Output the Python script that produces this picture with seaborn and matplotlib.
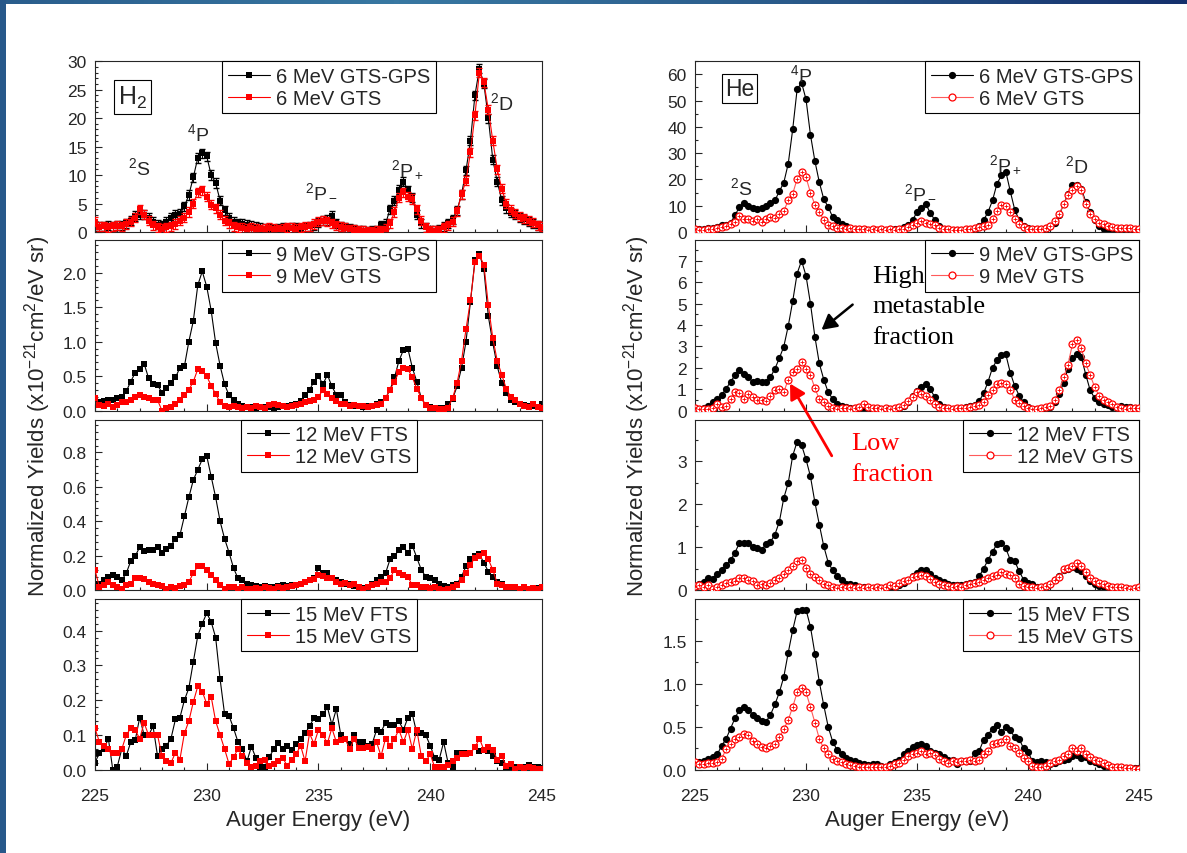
import numpy as np
import matplotlib
matplotlib.use("Agg")
import matplotlib.pyplot as plt
from matplotlib.colors import LinearSegmentedColormap
from matplotlib.patches import Rectangle
from matplotlib.ticker import MultipleLocator, FormatStrFormatter
import seaborn as sns

# Auger energy grid (eV), 0.2 eV channels
energy = np.round(np.arange(225.0, 245.01, 0.2), 1)

# ---- H2 target ----
h2_6_gps = [1.0, 0.9, 1.0, 1.1, 1.0, 1.1, 1.2, 1.5, 2.0, 2.8,
            3.0, 3.0, 2.5, 1.8, 1.3, 1.2, 1.8, 2.5, 3.0, 3.2,
            4.5, 6.5, 9.6, 13.0, 13.8, 13.3, 10.0, 8.6, 5.5, 3.8,
            2.5, 1.8, 1.5, 1.4, 1.3, 1.1, 0.9, 0.7, 0.6, 0.6,
            0.5, 0.6, 0.7, 0.6, 0.7, 0.8, 0.6, 0.8, 1.0, 1.2,
            1.6, 2.0, 2.1, 2.8, 1.5, 1.0, 0.8, 0.6, 0.5, 0.3,
            0.2, 0.1, 0.2, 0.3, 1.2, 1.4, 4.0, 5.5, 7.4, 8.8,
            7.3, 6.0, 3.0, 1.5, 0.8, 0.3, 0.2, 0.5, 0.9, 1.5,
            2.2, 3.8, 6.6, 10.8, 16.0, 24.0, 28.7, 26.0, 20.0, 12.7,
            8.8, 5.6, 4.2, 3.4, 3.0, 2.6, 2.2, 1.8, 1.5, 1.1,
            0.9]
h2_6_gts = [1.8, 0.9, 1.0, 0.8, 1.0, 1.1, 1.0, 1.4, 1.8, 2.5,
            4.0, 3.0, 2.0, 1.2, 0.8, 0.6, 0.8, 1.0, 1.4, 2.0,
            2.5, 3.5, 5.0, 7.0, 7.3, 6.2, 4.8, 4.2, 3.0, 2.0,
            1.5, 1.0, 0.8, 0.7, 0.6, 0.7, 0.6, 0.5, 0.6, 0.7,
            0.6, 0.5, 0.6, 0.8, 0.7, 0.6, 0.8, 0.9, 1.0, 1.4,
            1.8, 2.0, 1.9, 1.5, 1.2, 0.9, 0.7, 0.5, 0.4, 0.3,
            0.2, 0.1, 0.1, 0.2, 0.3, 0.6, 1.5, 3.5, 6.0, 7.0,
            6.2, 5.8, 4.0, 2.0, 0.8, 0.3, 0.2, 0.3, 0.8, 1.2,
            1.8, 3.6, 6.6, 9.0, 14.0, 20.5, 28.0, 26.3, 21.5, 16.0,
            11.0, 7.6, 5.0, 3.9, 3.2, 2.7, 2.4, 2.0, 1.6, 1.2,
            0.9]
h2_6_err = 0.8

h2_9_gps = [0.10, 0.13, 0.14, 0.15, 0.16, 0.18, 0.20, 0.28, 0.42, 0.55,
            0.60, 0.68, 0.47, 0.38, 0.37, 0.26, 0.33, 0.40, 0.48, 0.62,
            0.64, 1.00, 1.30, 1.82, 2.02, 1.80, 1.45, 0.98, 0.65, 0.38,
            0.22, 0.15, 0.10, 0.07, 0.05, 0.05, 0.04, 0.05, 0.05, 0.05,
            0.04, 0.05, 0.06, 0.07, 0.08, 0.10, 0.14, 0.22, 0.30, 0.42,
            0.50, 0.38, 0.52, 0.35, 0.23, 0.22, 0.12, 0.08, 0.07, 0.06,
            0.05, 0.06, 0.07, 0.10, 0.12, 0.18, 0.30, 0.48, 0.72, 0.88,
            0.90, 0.62, 0.42, 0.18, 0.08, 0.05, 0.03, 0.03, 0.04, 0.10,
            0.17, 0.35, 0.62, 1.00, 1.58, 2.18, 2.28, 2.05, 1.37, 0.98,
            0.64, 0.40, 0.25, 0.15, 0.12, 0.10, 0.08, 0.07, 0.06, 0.05,
            0.10]
h2_9_gts = [0.18, 0.08, 0.06, 0.10, 0.05, 0.08, 0.13, 0.12, 0.16, 0.20,
            0.22, 0.20, 0.18, 0.16, 0.15, 0.00, 0.03, 0.05, 0.10, 0.16,
            0.22, 0.30, 0.42, 0.60, 0.58, 0.50, 0.36, 0.24, 0.12, 0.07,
            0.05, 0.06, 0.05, 0.04, 0.05, 0.04, 0.06, 0.05, 0.04, 0.08,
            0.10, 0.08, 0.06, 0.05, 0.07, 0.08, 0.10, 0.12, 0.14, 0.16,
            0.20, 0.30, 0.24, 0.18, 0.14, 0.10, 0.09, 0.07, 0.08, 0.07,
            0.06, 0.05, 0.07, 0.08, 0.10, 0.18, 0.30, 0.42, 0.56, 0.62,
            0.60, 0.48, 0.32, 0.18, 0.08, 0.04, 0.03, 0.02, 0.02, 0.04,
            0.18, 0.40, 0.72, 1.18, 1.60, 2.15, 2.25, 2.12, 1.53, 1.05,
            0.72, 0.52, 0.32, 0.20, 0.15, 0.10, 0.07, 0.05, 0.09, 0.05,
            0.04]

h2_12_fts = [0.03, 0.04, 0.06, 0.08, 0.09, 0.08, 0.06, 0.10, 0.17, 0.20,
             0.25, 0.23, 0.235, 0.235, 0.25, 0.22, 0.24, 0.26, 0.30, 0.32,
             0.43, 0.54, 0.64, 0.70, 0.76, 0.78, 0.66, 0.54, 0.40, 0.30,
             0.22, 0.13, 0.07, 0.06, 0.04, 0.03, 0.025, 0.02, 0.025, 0.02,
             0.02, 0.025, 0.03, 0.025, 0.03, 0.03, 0.04, 0.05, 0.06, 0.07,
             0.13, 0.10, 0.10, 0.07, 0.06, 0.05, 0.04, 0.035, 0.025, 0.02,
             0.015, 0.02, 0.04, 0.06, 0.08, 0.10, 0.18, 0.20, 0.235, 0.25,
             0.22, 0.26, 0.19, 0.12, 0.08, 0.07, 0.06, 0.04, 0.025, 0.02,
             0.03, 0.04, 0.08, 0.14, 0.18, 0.20, 0.21, 0.16, 0.11, 0.08,
             0.05, 0.035, 0.02, 0.02, 0.015, 0.01, 0.015, 0.01, 0.01, 0.015,
             0.01]
h2_12_gts = [0.12, 0.02, 0.03, 0.05, 0.03, 0.02, 0.01, 0.03, 0.04, 0.07,
             0.07, 0.065, 0.05, 0.04, 0.03, 0.025, 0.01, 0.02, 0.015, 0.025,
             0.03, 0.05, 0.10, 0.14, 0.14, 0.12, 0.09, 0.06, 0.03, 0.01,
             0.02, 0.02, 0.01, 0.02, 0.01, 0.01, 0.015, 0.01, 0.02, 0.015,
             0.01, 0.02, 0.015, 0.02, 0.025, 0.03, 0.035, 0.05, 0.06, 0.065,
             0.09, 0.085, 0.07, 0.075, 0.05, 0.04, 0.045, 0.03, 0.035, 0.02,
             0.01, 0.02, 0.03, 0.04, 0.05, 0.05, 0.07, 0.12, 0.10, 0.09,
             0.08, 0.03, 0.03, 0.02, 0.02, 0.015, 0.02, 0.01, 0.005, 0.01,
             0.02, 0.03, 0.06, 0.10, 0.15, 0.19, 0.20, 0.22, 0.18, 0.12,
             0.04, 0.03, 0.02, 0.02, 0.02, 0.01, 0.02, 0.01, 0.015, 0.01,
             0.02]

h2_15_fts = [0.02, 0.05, 0.06, 0.09, 0.00, 0.01, 0.06, 0.04, 0.08, 0.085,
             0.15, 0.10, 0.10, 0.125, 0.04, 0.06, 0.07, 0.09, 0.145, 0.15,
             0.20, 0.235, 0.31, 0.385, 0.42, 0.45, 0.425, 0.38, 0.26, 0.16,
             0.155, 0.12, 0.08, 0.06, 0.025, 0.067, 0.035, 0.008, 0.01, 0.037,
             0.06, 0.076, 0.06, 0.07, 0.057, 0.075, 0.09, 0.105, 0.125, 0.15,
             0.145, 0.16, 0.18, 0.13, 0.175, 0.10, 0.09, 0.075, 0.10, 0.08,
             0.08, 0.07, 0.075, 0.115, 0.11, 0.135, 0.13, 0.13, 0.14, 0.115,
             0.15, 0.16, 0.105, 0.105, 0.10, 0.07, 0.035, 0.03, 0.08, 0.02,
             0.01, 0.05, 0.05, 0.05, 0.05, 0.065, 0.055, 0.058, 0.055, 0.04,
             0.025, 0.02, 0.01, 0.008, 0.008, 0.01, 0.01, 0.015, 0.01, 0.008,
             0.005]
h2_15_gts = [0.12, 0.08, 0.07, 0.06, 0.05, 0.05, 0.06, 0.10, 0.12, 0.115,
             0.09, 0.135, 0.10, 0.10, 0.10, 0.04, 0.025, 0.02, 0.05, 0.03,
             0.105, 0.14, 0.195, 0.24, 0.225, 0.19, 0.21, 0.14, 0.10, 0.06,
             0.017, 0.037, 0.06, 0.04, 0.02, 0.008, 0.012, 0.025, 0.03, 0.012,
             0.017, 0.025, 0.035, 0.012, 0.03, 0.045, 0.07, 0.025, 0.105, 0.075,
             0.115, 0.10, 0.077, 0.12, 0.08, 0.085, 0.088, 0.06, 0.09, 0.063,
             0.063, 0.066, 0.06, 0.08, 0.04, 0.09, 0.07, 0.09, 0.115, 0.08,
             0.115, 0.06, 0.115, 0.04, 0.025, 0.045, 0.008, 0.008, 0.01, 0.015,
             0.025, 0.035, 0.045, 0.045, 0.05, 0.065, 0.09, 0.058, 0.067, 0.058,
             0.03, 0.04, 0.012, 0.017, 0.003, 0.008, 0.006, 0.01, 0.005, 0.004,
             0.003]

# ---- He target ----
he_6_gps = [1.2, 1.3, 1.2, 1.5, 1.5, 2.0, 2.5, 2.8, 3.5, 6.3,
            9.5, 11.1, 10.0, 9.3, 8.7, 9.1, 9.8, 11.2, 12.0, 15.5,
            18.8, 26.0, 39.0, 54.3, 56.8, 50.5, 37.0, 27.0, 18.9, 12.5,
            9.5, 5.7, 4.4, 3.2, 2.2, 1.7, 1.3, 1.1, 1.0, 0.9,
            0.8, 0.7, 0.8, 0.9, 1.0, 1.1, 1.3, 1.8, 2.5, 4.5,
            7.6, 9.0, 10.5, 7.3, 4.5, 2.3, 1.3, 0.9, 0.7, 0.6,
            0.6, 0.7, 0.9, 1.2, 2.2, 4.5, 7.6, 12.0, 18.3, 21.5,
            23.0, 15.5, 8.5, 4.5, 2.3, 1.4, 1.0, 0.9, 1.0, 1.4,
            2.2, 3.5, 6.3, 10.5, 14.5, 17.8, 17.9, 16.4, 11.5, 7.5,
            4.5, 2.2, 1.3, 1.0, 0.8, 0.7, 0.6, 0.5, 0.5, 0.4,
            0.4]
he_6_gts = [1.0, 0.8, 0.9, 1.0, 1.3, 1.6, 1.9, 2.3, 3.2, 3.9,
            6.0, 5.1, 4.8, 4.0, 4.8, 3.8, 5.1, 5.7, 5.3, 7.0,
            8.0, 12.0, 14.5, 20.2, 22.7, 20.8, 15.0, 10.4, 7.5, 4.6,
            2.8, 2.1, 1.7, 1.4, 1.2, 1.5, 1.2, 1.0, 1.3, 0.9,
            1.1, 0.8, 1.0, 0.9, 1.0, 0.9, 1.1, 1.3, 1.8, 2.5,
            3.3, 4.0, 3.5, 3.2, 2.8, 1.6, 1.2, 1.0, 0.8, 0.9,
            0.8, 1.0, 1.3, 1.5, 1.9, 2.2, 2.5, 4.8, 7.8, 10.2,
            10.0, 7.6, 5.1, 3.0, 1.9, 1.3, 1.0, 1.0, 1.2, 1.6,
            2.3, 4.0, 6.8, 10.5, 13.9, 15.8, 17.5, 15.8, 10.5, 7.0,
            4.8, 3.6, 2.9, 2.4, 1.9, 1.7, 1.5, 1.5, 1.4, 1.3,
            1.2]

he_9_gps = [0.05, 0.06, 0.10, 0.20, 0.38, 0.52, 0.72, 1.02, 1.34, 1.65,
            1.88, 1.72, 1.55, 1.34, 1.37, 1.33, 1.35, 1.57, 1.95, 2.45,
            2.99, 3.95, 5.10, 6.40, 7.00, 6.30, 5.00, 3.45, 2.20, 1.45,
            0.85, 0.55, 0.31, 0.20, 0.16, 0.13, 0.10, 0.09, 0.08, 0.07,
            0.06, 0.06, 0.05, 0.05, 0.05, 0.07, 0.10, 0.22, 0.38, 0.70,
            0.92, 1.10, 1.26, 1.00, 0.62, 0.31, 0.18, 0.10, 0.07, 0.08,
            0.10, 0.15, 0.20, 0.28, 0.45, 0.80, 1.35, 2.00, 2.35, 2.58,
            2.62, 1.77, 1.15, 0.70, 0.38, 0.18, 0.08, 0.06, 0.07, 0.10,
            0.17, 0.40, 0.78, 1.30, 1.95, 2.44, 2.65, 2.50, 1.68, 0.94,
            0.58, 0.42, 0.31, 0.24, 0.17, 0.16, 0.20, 0.17, 0.15, 0.12,
            0.10]
he_9_gts = [0.10, 0.08, 0.07, 0.06, 0.12, 0.31, 0.15, 0.22, 0.55, 0.86,
            0.80, 0.55, 0.78, 0.65, 0.47, 0.50, 0.45, 0.68, 0.94, 1.00,
            0.86, 1.45, 1.81, 1.95, 2.25, 1.95, 1.65, 1.05, 0.52, 0.38,
            0.22, 0.14, 0.07, 0.10, 0.12, 0.08, 0.10, 0.15, 0.31, 0.15,
            0.10, 0.12, 0.08, 0.10, 0.07, 0.12, 0.15, 0.25, 0.45, 0.62,
            0.86, 0.76, 0.70, 0.50, 0.30, 0.15, 0.12, 0.10, 0.08, 0.12,
            0.10, 0.13, 0.15, 0.20, 0.28, 0.42, 0.72, 0.94, 1.26, 1.30,
            1.25, 0.98, 0.50, 0.35, 0.20, 0.10, 0.08, 0.07, 0.10, 0.15,
            0.22, 0.50, 0.95, 1.55, 2.15, 3.10, 3.30, 2.90, 2.20, 1.65,
            1.10, 0.70, 0.48, 0.38, 0.30, 0.15, 0.10, 0.07, 0.12, 0.14,
            0.10]

he_12_fts = [0.08, 0.16, 0.20, 0.30, 0.27, 0.39, 0.47, 0.60, 0.70, 0.88,
             1.10, 1.11, 1.10, 1.02, 0.98, 0.94, 1.08, 1.13, 1.30, 1.60,
             2.15, 2.50, 3.13, 3.46, 3.38, 3.05, 2.65, 2.05, 1.53, 1.03,
             0.65, 0.47, 0.34, 0.25, 0.14, 0.14, 0.12, 0.09, 0.07, 0.06,
             0.05, 0.05, 0.06, 0.05, 0.07, 0.09, 0.12, 0.17, 0.25, 0.33,
             0.41, 0.48, 0.47, 0.38, 0.30, 0.25, 0.19, 0.14, 0.12, 0.12,
             0.13, 0.15, 0.17, 0.19, 0.33, 0.51, 0.71, 0.90, 1.08, 1.11,
             0.98, 0.71, 0.68, 0.45, 0.25, 0.18, 0.14, 0.09, 0.08, 0.10,
             0.16, 0.25, 0.33, 0.47, 0.51, 0.55, 0.51, 0.45, 0.33, 0.23,
             0.16, 0.10, 0.08, 0.07, 0.06, 0.05, 0.05, 0.04, 0.04, 0.04,
             0.04]
he_12_gts = [0.10, 0.12, 0.09, 0.12, 0.04, 0.08, 0.12, 0.18, 0.20, 0.22,
             0.28, 0.30, 0.25, 0.21, 0.12, 0.16, 0.12, 0.17, 0.25, 0.30,
             0.39, 0.47, 0.58, 0.68, 0.72, 0.52, 0.38, 0.32, 0.24, 0.16,
             0.12, 0.08, 0.06, 0.08, 0.05, 0.07, 0.05, 0.08, 0.06, 0.07,
             0.05, 0.08, 0.06, 0.09, 0.12, 0.10, 0.18, 0.22, 0.25, 0.32,
             0.34, 0.35, 0.33, 0.27, 0.20, 0.15, 0.12, 0.10, 0.08, 0.10,
             0.09, 0.12, 0.15, 0.17, 0.20, 0.25, 0.30, 0.34, 0.37, 0.43,
             0.38, 0.35, 0.28, 0.14, 0.10, 0.08, 0.07, 0.06, 0.07, 0.10,
             0.14, 0.24, 0.32, 0.49, 0.53, 0.58, 0.63, 0.57, 0.44, 0.30,
             0.22, 0.17, 0.14, 0.11, 0.09, 0.09, 0.09, 0.06, 0.04, 0.06,
             0.08]

he_15_fts = [0.09, 0.09, 0.10, 0.13, 0.15, 0.18, 0.28, 0.36, 0.48, 0.60,
             0.70, 0.73, 0.70, 0.64, 0.60, 0.57, 0.56, 0.64, 0.76, 0.90,
             1.08, 1.36, 1.62, 1.84, 1.85, 1.86, 1.66, 1.35, 1.02, 0.75,
             0.50, 0.33, 0.23, 0.18, 0.14, 0.12, 0.10, 0.08, 0.07, 0.06,
             0.07, 0.07, 0.05, 0.04, 0.07, 0.09, 0.12, 0.18, 0.22, 0.27,
             0.29, 0.30, 0.28, 0.22, 0.20, 0.18, 0.15, 0.12, 0.12, 0.07,
             0.11, 0.11, 0.11, 0.20, 0.22, 0.35, 0.41, 0.48, 0.52, 0.44,
             0.50, 0.46, 0.38, 0.36, 0.25, 0.21, 0.10, 0.09, 0.10, 0.09,
             0.07, 0.08, 0.10, 0.12, 0.13, 0.16, 0.17, 0.14, 0.15, 0.11,
             0.09, 0.07, 0.05, 0.05, 0.04, 0.03, 0.03, 0.02, 0.01, 0.02,
             0.02]
he_15_gts = [0.09, 0.07, 0.07, 0.08, 0.08, 0.09, 0.13, 0.24, 0.30, 0.36,
             0.38, 0.42, 0.40, 0.34, 0.30, 0.27, 0.25, 0.28, 0.30, 0.38,
             0.47, 0.58, 0.73, 0.90, 0.95, 0.90, 0.73, 0.55, 0.36, 0.25,
             0.18, 0.13, 0.11, 0.09, 0.07, 0.06, 0.05, 0.03, 0.03, 0.03,
             0.03, 0.03, 0.03, 0.03, 0.05, 0.07, 0.08, 0.12, 0.16, 0.19,
             0.20, 0.22, 0.18, 0.20, 0.17, 0.13, 0.10, 0.08, 0.10, 0.09,
             0.11, 0.10, 0.12, 0.10, 0.12, 0.18, 0.22, 0.30, 0.31, 0.32,
             0.36, 0.28, 0.25, 0.20, 0.14, 0.10, 0.05, 0.04, 0.04, 0.05,
             0.08, 0.10, 0.12, 0.16, 0.19, 0.26, 0.22, 0.25, 0.19, 0.15,
             0.12, 0.10, 0.08, 0.06, 0.04, 0.04, 0.03, 0.02, 0.02, 0.01,
             0.01]

h2_panels = [
    (h2_6_gps, h2_6_gts, "6 MeV GTS-GPS", "6 MeV GTS", 30, 5),
    (h2_9_gps, h2_9_gts, "9 MeV GTS-GPS", "9 MeV GTS", 2.48, 0.5),
    (h2_12_fts, h2_12_gts, "12 MeV FTS", "12 MeV GTS", 0.99, 0.2),
    (h2_15_fts, h2_15_gts, "15 MeV FTS", "15 MeV GTS", 0.49, 0.1),
]
he_panels = [
    (he_6_gps, he_6_gts, "6 MeV GTS-GPS", "6 MeV GTS", 65, 10),
    (he_9_gps, he_9_gts, "9 MeV GTS-GPS", "9 MeV GTS", 7.98, 1),
    (he_12_fts, he_12_gts, "12 MeV FTS", "12 MeV GTS", 3.97, 1),
    (he_15_fts, he_15_gts, "15 MeV FTS", "15 MeV GTS", 1.98, 0.5),
]

h2_peaks = [("$^2$S", 227.0, 11.4), ("$^4$P", 229.6, 17.3), ("$^2$P$_-$", 235.15, 7.3),
            ("$^2$P$_+$", 239.0, 11.2), ("$^2$D", 243.2, 22.8)]
he_peaks = [("$^2$S", 227.1, 17.0), ("$^4$P", 229.8, 60.0), ("$^2$P$_-$", 235.15, 15.5),
            ("$^2$P$_+$", 239.0, 26.0), ("$^2$D", 242.2, 25.3)]

sns.set_style("ticks")
plt.rcParams["font.family"] = ["Liberation Sans", "DejaVu Sans"]
plt.rcParams["mathtext.fontset"] = "custom"
plt.rcParams["mathtext.rm"] = "Liberation Sans"
plt.rcParams["mathtext.it"] = "Liberation Sans:italic"
plt.rcParams["axes.linewidth"] = 0.8

fig = plt.figure(figsize=(11.87, 8.54), dpi=100)

# slide frame (blue strips on top and left)
slide_cmap = LinearSegmentedColormap.from_list("slide", ["#2a5d8c", "#3878a2", "#2a5a8a", "#15306c"])
band = fig.add_axes([0, 1 - 5 / 854, 1, 5 / 854])
band.imshow(np.linspace(0, 1, 256)[None, :], aspect="auto", cmap=slide_cmap)
band.axis("off")
fig.add_artist(Rectangle((0, 0), 6 / 1187, 1, transform=fig.transFigure, color="#27588a", lw=0))

bottoms = [0.7272, 0.5181, 0.3074, 0.0972]
col_x = [(0.0800, 0.3766), (0.5855, 0.3741)]

axes = {}
for col, (panels, kind) in enumerate([(h2_panels, "H2"), (he_panels, "He")]):
    x0, w = col_x[col]
    for row, (blk, red, lab_b, lab_r, ytop, ystep) in enumerate(panels):
        ax = fig.add_axes([x0, bottoms[row], w, 0.2])
        ax.set_facecolor("none")
        if kind == "H2":
            if row == 0:
                ax.errorbar(energy, blk, yerr=h2_6_err, fmt="none", ecolor="k", elinewidth=0.8, capsize=2.5, zorder=2)
                ax.errorbar(energy, red, yerr=h2_6_err, fmt="none", ecolor="red", elinewidth=0.8, capsize=2.5, zorder=3)
            sns.lineplot(x=energy, y=blk, ax=ax, color="black", lw=0.8, marker="s", markersize=4.6,
                         markeredgecolor="black", markeredgewidth=0, label=lab_b, zorder=2)
            sns.lineplot(x=energy, y=red, ax=ax, color="red", lw=0.8, marker="s", markersize=4.6,
                         markeredgecolor="red", markeredgewidth=0, label=lab_r, zorder=3)
            ax.yaxis.set_minor_locator(MultipleLocator(ystep / 5))
        else:
            sns.lineplot(x=energy, y=blk, ax=ax, color="black", lw=0.8, marker="o", markersize=5.2,
                         markeredgecolor="black", markeredgewidth=0, label=lab_b, zorder=2)
            sns.lineplot(x=energy, y=red, ax=ax, color="#ff5a5a", lw=0.8, marker="o", markersize=5.0,
                         markeredgecolor="red", markerfacecolor="white", markeredgewidth=0.9,
                         label=lab_r, zorder=3)
            ax.plot(energy, red, ls="none", marker="+", ms=3.0, mew=0.6, color="red", zorder=4)
            ax.yaxis.set_minor_locator(MultipleLocator(ystep / 2))

        ax.set_xlim(225, 245)
        ax.set_ylim(0, ytop)
        ax.xaxis.set_major_locator(MultipleLocator(5))
        ax.xaxis.set_minor_locator(MultipleLocator(1))
        ax.yaxis.set_major_locator(MultipleLocator(ystep))
        if ystep >= 1:
            ax.yaxis.set_major_formatter(FormatStrFormatter("%d"))
        else:
            ax.yaxis.set_major_formatter(FormatStrFormatter("%.1f"))
        ax.tick_params(which="both", direction="in", top=False, right=False, width=0.8, labelsize=12.5)
        ax.tick_params(which="major", length=5)
        ax.tick_params(which="minor", length=2.5)
        ax.tick_params(axis="x", pad=13)
        ax.tick_params(axis="y", pad=6)
        ax.set_xlabel("")
        ax.set_ylabel("")
        if row < 3:
            ax.tick_params(labelbottom=False)
        else:
            ax.set_xlabel("Auger Energy (eV)", fontsize=16, labelpad=4)

        if kind == "H2":
            loc, anchor = "upper left", (0.284 if row < 2 else 0.327, 1.0)
        else:
            loc, anchor = "upper right", (1.0, 1.0)
        leg = ax.legend(loc=loc, bbox_to_anchor=anchor,
                        fontsize=14.5, frameon=True, fancybox=False, edgecolor="black", framealpha=1,
                        handlelength=2.1, handletextpad=0.3, borderpad=0.28, labelspacing=0.15,
                        borderaxespad=0, numpoints=1)
        leg.get_frame().set_linewidth(0.8)
        axes[(kind, row)] = ax

# peak labels and target boxes
for txt, x, y in h2_peaks:
    axes[("H2", 0)].text(x, y, txt, ha="center", va="center", fontsize=14)
for txt, x, y in he_peaks:
    axes[("He", 0)].text(x, y, txt, ha="center", va="center", fontsize=14)
axes[("H2", 0)].text(0.084, 0.79, "H$_2$", transform=axes[("H2", 0)].transAxes, ha="center", va="center",
                     fontsize=18, bbox=dict(boxstyle="square,pad=0.16", fc="white", ec="black", lw=0.8))
axes[("He", 0)].text(0.10, 0.84, "He", transform=axes[("He", 0)].transAxes, ha="center", va="center",
                     fontsize=16.5, bbox=dict(boxstyle="square,pad=0.14", fc="white", ec="black", lw=0.8))

# metastable fraction notes
ax9 = axes[("He", 1)]
ax12 = axes[("He", 2)]
ax9.text(233.0, 6.8, "High\nmetastable\nfraction", ha="left", va="top", fontsize=19,
         family=["Liberation Serif", "DejaVu Serif"], linespacing=1.5, color="black", zorder=6)
ax9.annotate("", xy=(230.7, 3.77), xytext=(232.1, 4.95),
             arrowprops=dict(arrowstyle="-|>,head_length=0.45,head_width=0.25", lw=1.8, color="black",
                             shrinkA=0, shrinkB=0, mutation_scale=20))
ax12.text(232.05, 3.68, "Low\nfraction", ha="left", va="top", fontsize=19,
          family=["Liberation Serif", "DejaVu Serif"], linespacing=1.5, color="red", zorder=6)
ax9.annotate("", xy=(229.28, 1.26), xytext=(231.16, 3.13), textcoords=ax12.transData,
             annotation_clip=False,
             arrowprops=dict(arrowstyle="-|>,head_length=0.45,head_width=0.25", lw=2.0, color="red",
                             shrinkA=0, shrinkB=0, mutation_scale=20))

ylab = "Normalized Yields (x10$^{-21}$cm$^2$/eV sr)"
fig.text(38 / 1187, 1 - 416 / 854, ylab, rotation=90, ha="center", va="center", fontsize=16)
fig.text(637 / 1187, 1 - 416 / 854, ylab, rotation=90, ha="center", va="center", fontsize=16)

fig.savefig("out.png", dpi=100)
